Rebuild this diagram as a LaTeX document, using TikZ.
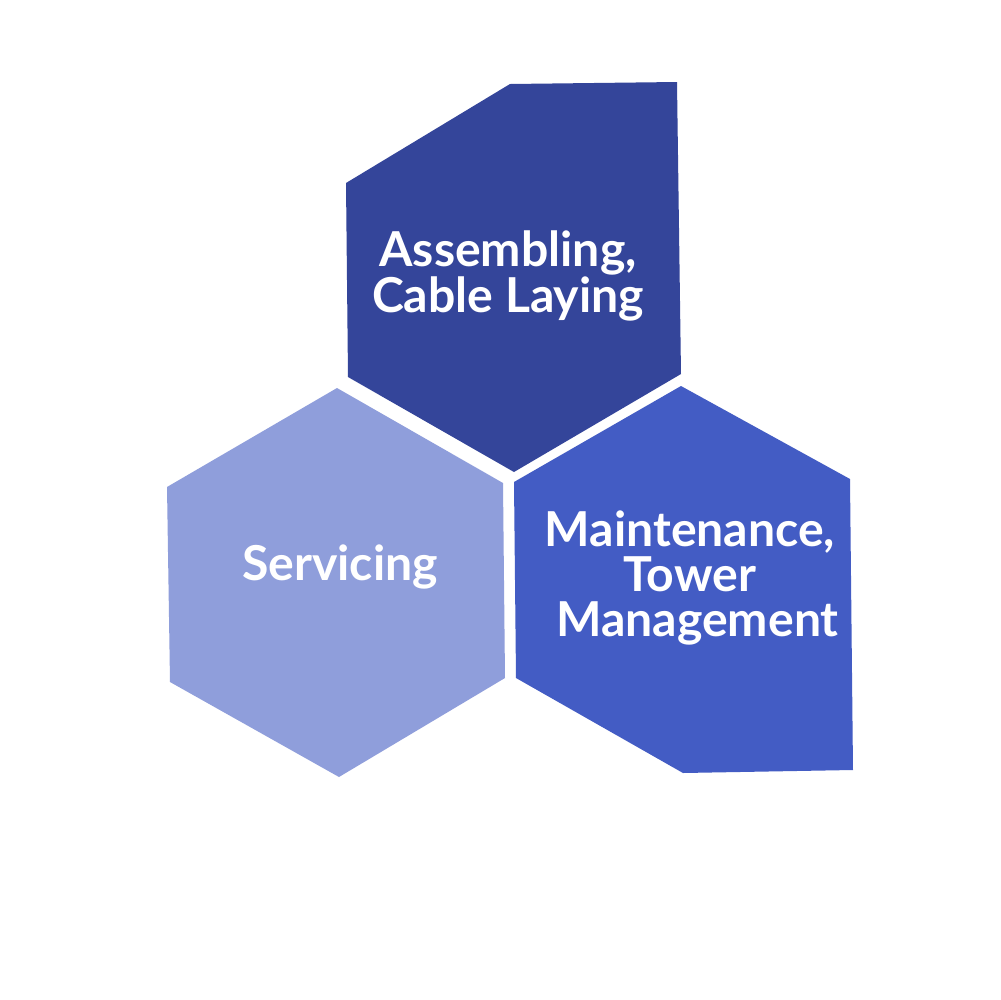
\documentclass[tikz,border=0pt]{standalone}
\usepackage{fontspec}
\setmainfont{Lato}
\usepackage{tikz}
\definecolor{hexdark}{HTML}{34459A}
\definecolor{hexlight}{HTML}{8F9EDB}
\definecolor{hexmid}{HTML}{435CC4}
\tikzset{label/.style={text=white, font=\bfseries\fontsize{13.7}{12.9}\selectfont, align=center}}

\begin{document}
\begin{tikzpicture}[x=0.1mm, y=-0.1mm]
\useasboundingbox[fill=white] (0,0) rectangle (1000,1000);
\fill[hexdark] (510,84) -- (677,82) -- (681,374) -- (514,472) -- (348,377) -- (346,183) -- cycle;
\fill[hexlight] (337,388) -- (503,483) -- (505,678) -- (339,777) -- (170,682) -- (167,487) -- cycle;
\fill[hexmid] (681,386) -- (850,479) -- (853,770) -- (683,773) -- (516,678) -- (514,482) -- cycle;
\node[label] (assembling) at (508,276) {Assembling,\\Cable Laying};
\node[label] (servicing) at (340,567) {Servicing};
\node[label] (maintenance) at (690,578) {Maintenance,\\Tower\\\hspace{1.5mm}Management};
\end{tikzpicture}
\end{document}
